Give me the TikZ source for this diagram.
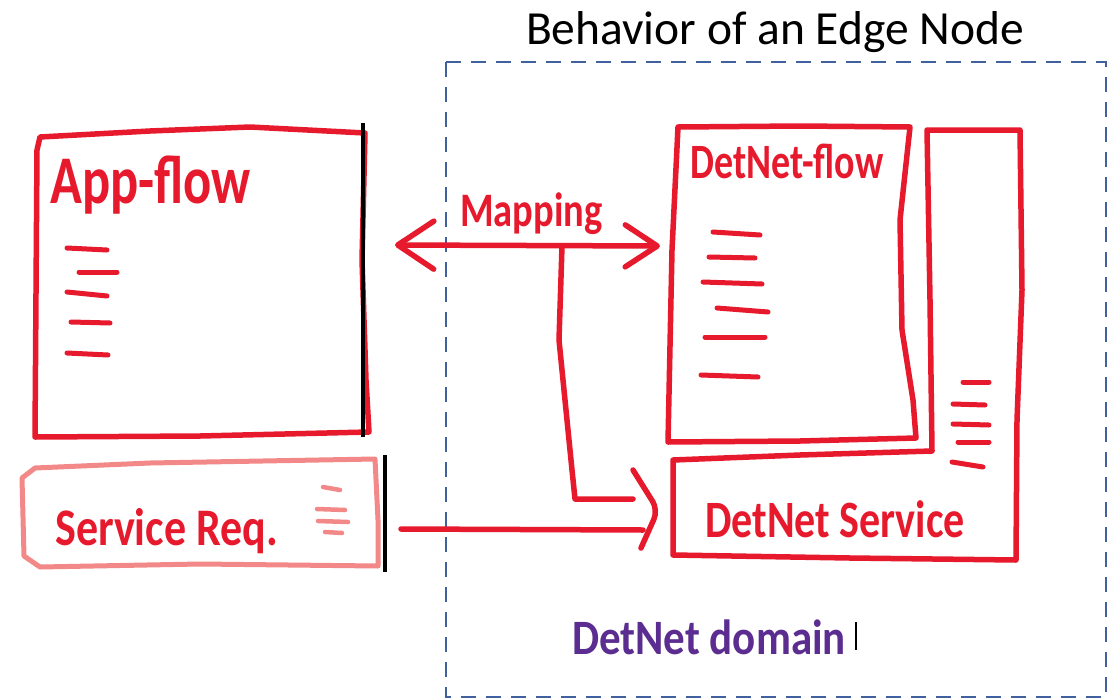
\documentclass[tikz,border=0pt]{standalone}
\usepackage{fontspec}
\setmainfont{Carlito}
\usetikzlibrary{arrows.meta}
\definecolor{hred}{RGB}{230,26,44}
\definecolor{hpink}{RGB}{242,136,136}
\definecolor{hblue}{RGB}{64,96,158}
\definecolor{hpurple}{RGB}{92,45,145}
\newcommand{\handtext}[3]{\scalebox{1}[#2]{\fontsize{#1}{#1}\selectfont\bfseries #3}}
\begin{document}
\begin{tikzpicture}[x=1pt,y=-1pt,
  redline/.style={draw=hred,line width=5.5pt,line join=round,line cap=round},
  pinkline/.style={draw=hpink,line width=5pt,line join=round,line cap=round},
  stroke/.style={draw=hred,line width=5pt,line cap=round},
  pstroke/.style={draw=hpink,line width=4.5pt,line cap=round},
  blackbar/.style={draw=black,line width=3.5pt},
  domainbox/.style={draw=hblue,line width=2.5pt,dash pattern=on 15pt off 10pt},
  hand/.style={inner sep=0pt,anchor=base west,text=hred}
]
\fill[white] (0,0) rectangle (1116,699);
\useasboundingbox (0,0) rectangle (1116,699);

% title
\node[inner sep=0pt,anchor=base] (title) at (775,44)
  {\fontsize{47.5}{57}\selectfont Behavior of an Edge Node};

% domain (dashed)
\draw[domainbox] (446,62) rectangle (1106,697);

% App-flow box
\draw[redline] (37,150) -- (40,137) -- (150,131) -- (250,127) -- (365,133)
  -- (362,260) -- (366,380) -- (369,432) -- (200,436) -- (35,437) -- cycle;
\draw[blackbar] (363,123) -- (363,437);
\node[hand] (app) at (50,203) {\handtext{52.5}{1.3}{App-flow}};
\foreach \a/\b/\c/\d in {67/248/107/250, 79/272/117/272, 67/292/107/296,
                        71/322/110/323, 67/353/108/355}
  \draw[stroke] (\a,\b) -- (\c,\d);

% Service Req. box
\draw[pinkline] (22,478) -- (35,468) -- (150,463) -- (375,459)
  -- (378,520) -- (378,566) -- (200,564) -- (40,567) -- (24,556) -- cycle;
\draw[blackbar] (385,455) -- (385,572);
\node[hand] (req) at (55,545) {\handtext{44}{1.2}{Service Req.}};
\foreach \a/\b/\c/\d in {323/487/340/490, 317/509/345/510,
                        318/521/348/522, 325/532/342/533}
  \draw[pstroke] (\a,\b) -- (\c,\d);

% DetNet-flow box
\draw[redline] (678,127) -- (800,126) -- (910,127) -- (900,220) -- (902,330)
  -- (913,400) -- (916,438) -- (800,441) -- (668,442) -- (672,250) -- cycle;
\node[hand] (dflow) at (690,178) {\handtext{38}{1.3}{DetNet-flow}};
\foreach \a/\b/\c/\d in {713/232/760/235, 709/257/755/258, 703/282/762/284,
                        717/308/768/312, 705/337/765/337, 701/375/758/377}
  \draw[stroke] (\a,\b) -- (\c,\d);

% DetNet Service (L-shaped outline)
\draw[redline] (927,130) -- (1020,130) -- (1022,290) -- (1017,420) -- (1016,560)
  -- (850,558) -- (673,555) -- (673,460) -- (800,455) -- (932,451) -- (930,300) -- cycle;
\node[hand] (dsvc) at (705,537) {\handtext{42}{1.25}{DetNet Service}};
\foreach \a/\b/\c/\d in {963/382/989/382, 953/404/985/405, 953/424/989/425,
                        958/442/989/442, 952/462/983/467}
  \draw[stroke] (\a,\b) -- (\c,\d);

% DetNet domain label
\node[hand,text=hpurple] (dom) at (572,654) {\handtext{43}{1.15}{DetNet domain}};
\draw[blackbar,line width=2.5pt] (856,622) -- (856,650);

% connectors
\coordinate (mapL) at (395,245);
\coordinate (mapR) at (660,246);
\coordinate (mapJ) at (562,246);
\coordinate (svcIn1) at (633,499);
\coordinate (svcIn2) at (643,530);
\coordinate (reqOut) at (401,529);
\coordinate (svcTipA) at (633,470);
\coordinate (svcTip) at (658,510);
\coordinate (svcTipB) at (641,548);

\node[hand] (map) at (460,226) {\handtext{38.5}{1.25}{Mapping}};
\draw[redline,{Straight Barb[length=36pt,width=48pt,round]}-{Straight Barb[length=32pt,width=42pt,round]}]
  (mapL) -- (mapR);
\draw[redline] (mapJ) -- (559,340) -- (572,470) -- (575,499) -- (svcIn1);
\draw[redline] (reqOut) -- (svcIn2);
\draw[redline,rounded corners=10pt] (svcTipA) -- (svcTip) -- (svcTipB);
\end{tikzpicture}
\end{document}
